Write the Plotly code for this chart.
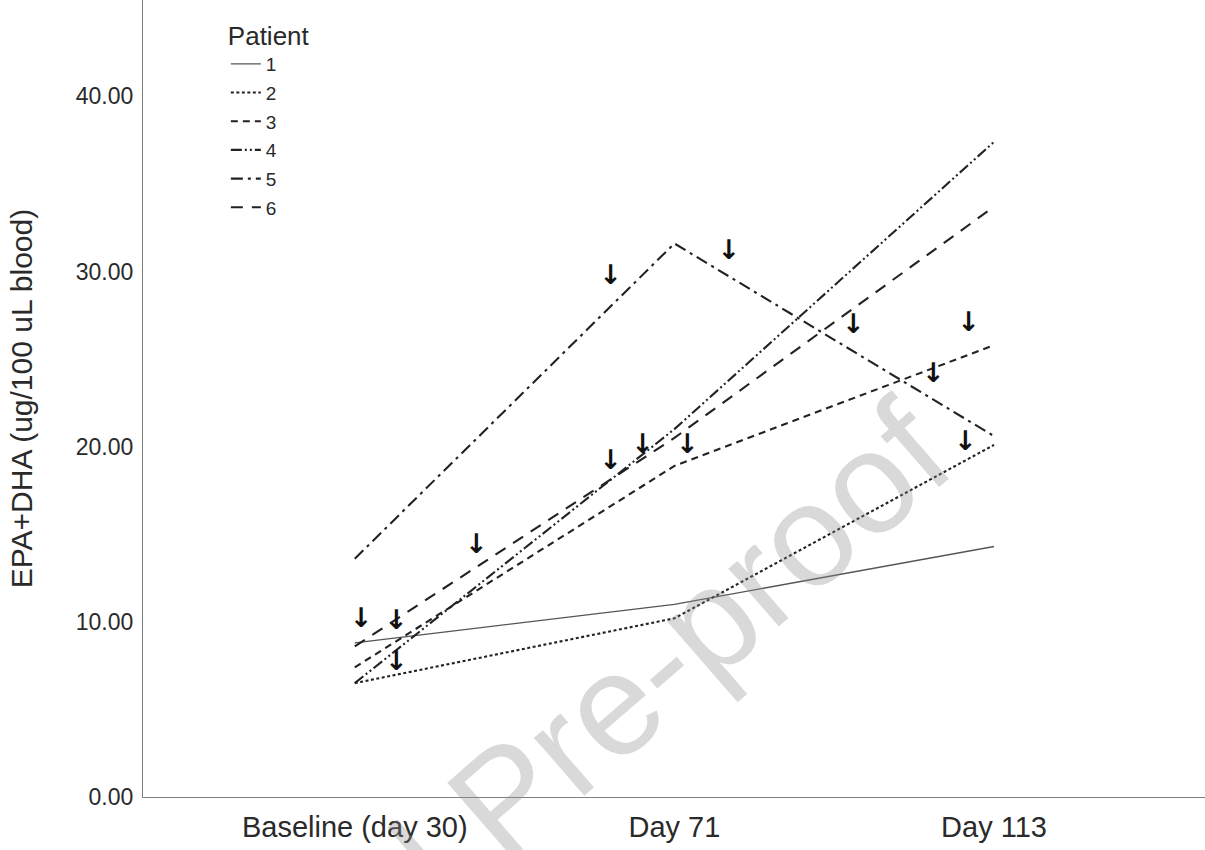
import plotly.graph_objects as go

categories = ["Baseline (day 30)", "Day 71", "Day 113"]
cat_pos = [0, 1, 2]

patients = ["1", "2", "3", "4", "5", "6"]
p1 = [8.8, 11.0, 14.3]
p2 = [6.5, 10.2, 20.1]
p3 = [7.4, 18.9, 25.8]
p4 = [6.5, 21.0, 37.4]
p5 = [13.6, 31.6, 20.6]
p6 = [8.6, 20.5, 33.7]
series = [p1, p2, p3, p4, p5, p6]

# arrow markers (position along the time axis in category units, value)
arrow_x = [0.02, 0.13, 0.13, 0.38, 0.80, 0.90, 1.04, 0.80, 1.17, 1.56, 1.92, 1.81, 1.91]
arrow_y = [10.1, 10.0, 7.66, 14.3, 19.1, 20.0, 20.0, 29.7, 31.1, 26.9, 27.0, 24.1, 20.2]

y_ticks = [0, 10, 20, 30, 40]

dashes = ["solid", "3px,2.5px", "7px,5px", "11px,3px,2px,3px,2px,3px", "12px,5px,3px,5px", "12px,9px"]
colors = ["#555555", "#222222", "#222222", "#222222", "#222222", "#222222"]
widths = [1.3, 2.1, 2.1, 2.1, 2.1, 2.1]

FONT = "Liberation Sans, Arial, sans-serif"
TXT = "#2a2a2a"

fig = go.Figure()
for i, (name, vals) in enumerate(zip(patients, series)):
    fig.add_trace(go.Scatter(
        x=cat_pos, y=vals, mode="lines", name=name,
        legendgroup=name,
        line=dict(color=colors[i], width=widths[i], dash=dashes[i]),
    ))

fig.add_trace(go.Scatter(
    x=arrow_x, y=arrow_y, mode="text", text=["↓"] * len(arrow_x),
    textposition="middle center",
    textfont=dict(family="DejaVu Sans", size=27, color="#111111", weight="bold"),
    showlegend=False, hoverinfo="skip",
))

fig.add_annotation(
    text="Journal Pre-proof", xref="paper", yref="paper",
    x=0.34, y=-0.002, xanchor="center", yanchor="middle",
    textangle=-41, showarrow=False,
    font=dict(family=FONT, size=145, color="rgba(140,140,140,0.33)"),
)

fig.update_layout(
    width=1205, height=850,
    margin=dict(l=143, r=0, t=0, b=53),
    paper_bgcolor="white", plot_bgcolor="white",
    font=dict(family=FONT, color=TXT),
    showlegend=True,
    legend=dict(
        x=0.078, y=0.986, xanchor="left", yanchor="top",
        bgcolor="rgba(0,0,0,0)",
        title=dict(text="Patient", font=dict(size=26, family=FONT, color=TXT), side="top"),
        font=dict(size=19, family=FONT, color=TXT),
        itemwidth=30, tracegroupgap=1,
    ),
    xaxis=dict(
        range=[-0.6625, 2.66], tickmode="array", tickvals=cat_pos, ticktext=categories,
        showline=True, linecolor="#7f7f7f", linewidth=1.2, showgrid=False, zeroline=False,
        ticks="", tickfont=dict(size=29, family=FONT, color=TXT),
        ticklabelstandoff=4,
    ),
    yaxis=dict(
        range=[0, 45.5], tickmode="array", tickvals=y_ticks, tickformat=".2f",
        showline=True, linecolor="#7f7f7f", linewidth=1.2, showgrid=False, zeroline=False,
        ticks="", tickfont=dict(size=23, family=FONT, color=TXT),
        ticklabelstandoff=4,
        title=dict(text="EPA+DHA (ug/100 uL blood)", font=dict(size=30, family=FONT, color=TXT), standoff=34),
        automargin=False,
    ),
)

fig.write_html("out.html", config={"displayModeBar": False},
               post_script="document.body.style.margin='0px';")
